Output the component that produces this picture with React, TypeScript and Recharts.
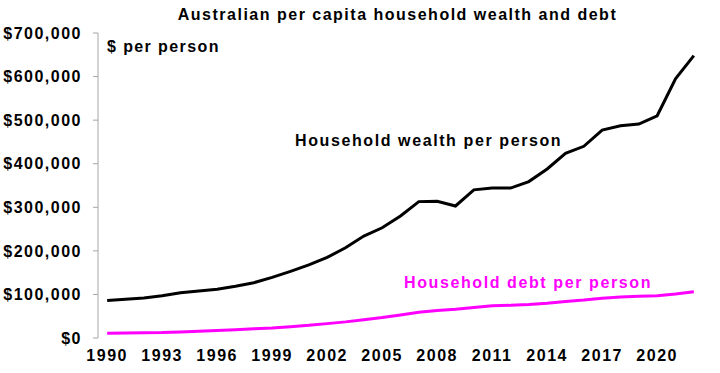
import { LineChart, Line, XAxis, YAxis } from 'recharts';

const years = [
  1990, 1991, 1992, 1993, 1994, 1995, 1996, 1997, 1998, 1999, 2000,
  2001, 2002, 2003, 2004, 2005, 2006, 2007, 2008, 2009, 2010, 2011,
  2012, 2013, 2014, 2015, 2016, 2017, 2018, 2019, 2020, 2021, 2022,
];

// $ per person
const wealth = [
  86000, 89000, 92000, 97000, 104000, 108000, 112000, 119000, 127000, 139000, 153000,
  168000, 185000, 207000, 234000, 253000, 280000, 313000, 314000, 303000, 340000, 344000,
  344000, 359000, 388000, 424000, 440000, 477000, 487000, 491000, 510000, 595000, 648000,
];

const debt = [
  11000, 11500, 12000, 12500, 14000, 15500, 17000, 19000, 21000, 23000, 26000,
  29000, 33000, 37000, 42000, 47000, 53000, 59000, 63000, 66000, 70000, 74000,
  75000, 77000, 80000, 84000, 87000, 91000, 94000, 96000, 97000, 101000, 106000,
];

const yTicks = [0, 100000, 200000, 300000, 400000, 500000, 600000, 700000];
const xLabelTicks = [1990, 1993, 1996, 1999, 2002, 2005, 2008, 2011, 2014, 2017, 2020];
const xBoundaryTicks = [...years.map((y) => y - 0.5), 2022.5];

const data = years.map((year, i) => ({ year, wealth: wealth[i], debt: debt[i] }));

const FONT = '"Liberation Sans", Arial, sans-serif';
const AXIS_GREY = '#a6a6a6';

const fmtDollar = (v: number) => '$' + v.toLocaleString('en-US');

const tickStyle = { fill: '#000', fontSize: 16, fontWeight: 700, fontFamily: FONT, letterSpacing: 1.5 };

export default function App() {
  return (
    <div style={{ position: 'absolute', left: 0, top: 0, width: 720, height: 373, background: '#fff', fontFamily: FONT }}>
      <div style={{ position: 'absolute', left: 0, width: 795, top: 7, textAlign: 'center', fontSize: 16, fontWeight: 700, lineHeight: '16px', letterSpacing: 1.5 }}>
        Australian per capita household wealth and debt
      </div>
      <LineChart width={720} height={373} data={data} margin={{ top: 33, right: 17, bottom: 0, left: 0 }}>
        <XAxis
          xAxisId="bnd"
          dataKey="year"
          type="number"
          domain={[1989.5, 2022.5]}
          ticks={xBoundaryTicks}
          tick={false}
          tickSize={5}
          tickLine={{ stroke: AXIS_GREY }}
          axisLine={{ stroke: AXIS_GREY }}
          height={0}
        />
        <XAxis
          dataKey="year"
          type="number"
          domain={[1989.5, 2022.5]}
          ticks={xLabelTicks}
          interval={0}
          tickLine={false}
          axisLine={false}
          tickSize={5}
          tickMargin={7}
          tick={tickStyle}
          height={35}
        />
        <XAxis xAxisId="top" orientation="top" dataKey="year" type="number" domain={[1989.5, 2022.5]} tick={false} tickLine={false} axisLine={{ stroke: AXIS_GREY }} height={0} />
        <YAxis
          domain={[0, 700000]}
          ticks={yTicks}
          interval={0}
          tickFormatter={fmtDollar}
          tick={tickStyle}
          tickSize={5}
          tickMargin={11}
          tickLine={{ stroke: AXIS_GREY }}
          axisLine={{ stroke: AXIS_GREY }}
          width={98}
        />
        <YAxis yAxisId="right" orientation="right" domain={[0, 700000]} tick={false} tickLine={false} axisLine={{ stroke: AXIS_GREY }} width={0} />
        <Line dataKey="wealth" stroke="#000" strokeWidth={3} dot={false} isAnimationActive={false} />
        <Line dataKey="debt" stroke="#ff00ff" strokeWidth={3} dot={false} isAnimationActive={false} />
      </LineChart>
      <div style={{ position: 'absolute', left: 107, top: 39, fontSize: 16, fontWeight: 700, lineHeight: '16px', letterSpacing: 1.4 }}>
        $ per person
      </div>
      <div style={{ position: 'absolute', left: 295, top: 133, fontSize: 16, fontWeight: 700, lineHeight: '16px', letterSpacing: 1.6 }}>
        Household wealth per person
      </div>
      <div style={{ position: 'absolute', left: 404, top: 275, fontSize: 16, fontWeight: 700, lineHeight: '16px', letterSpacing: 1.6, color: '#ff00ff' }}>
        Household debt per person
      </div>
    </div>
  );
}
